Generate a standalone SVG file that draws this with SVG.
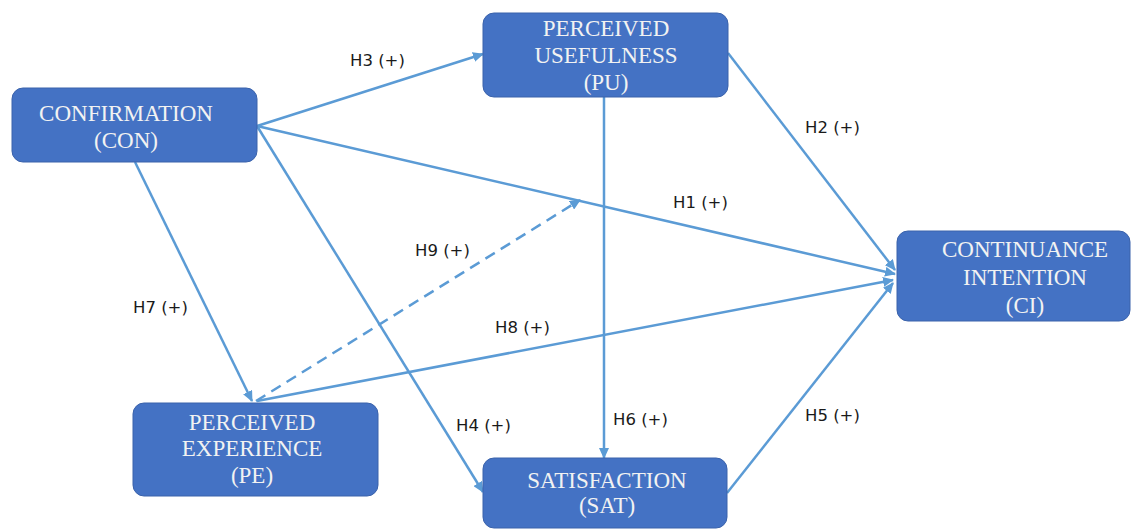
<svg xmlns="http://www.w3.org/2000/svg" width="1131" height="529" viewBox="0 0 1131 529">
<style>
.box{fill:#4472c4;stroke:#3a62ab;stroke-width:1}
.nt{font-family:"Liberation Serif","Times New Roman",serif;font-size:23px;fill:#f2f2f2;text-anchor:middle}
.lb{font-family:"DejaVu Sans",sans-serif;font-size:16.5px;fill:#1a1a1a}
.c{stroke:#5b9bd5;stroke-width:2.5;fill:none;marker-end:url(#ah)}
.d{stroke-dasharray:11 7}
</style>
<defs>
<marker id="ah" markerUnits="userSpaceOnUse" markerWidth="12" markerHeight="10" refX="10" refY="5" orient="auto">
<path d="M0,0 L11,5 L0,10 Z" fill="#5b9bd5"/>
</marker>
</defs>
<rect width="1131" height="529" fill="#ffffff"/>
<g id="connectors">
<line class="c" x1="257" y1="126" x2="483" y2="54"/>
<line class="c" x1="257" y1="126" x2="895" y2="274"/>
<line class="c" x1="257" y1="126" x2="483" y2="492"/>
<line class="c" x1="135" y1="162" x2="252" y2="401"/>
<line class="c" x1="257" y1="401" x2="893" y2="280"/>
<line class="c d" x1="256" y1="401" x2="580" y2="200"/>
<line class="c" x1="604" y1="97" x2="604" y2="458"/>
<line class="c" x1="728" y1="53" x2="895" y2="270"/>
<line class="c" x1="727" y1="493" x2="893" y2="283"/>
</g>
<g id="labels">
<text class="lb" x="350" y="66">H3 (+)</text>
<text class="lb" x="805" y="133">H2 (+)</text>
<text class="lb" x="673" y="208">H1 (+)</text>
<text class="lb" x="415" y="256">H9 (+)</text>
<text class="lb" x="133" y="313">H7 (+)</text>
<text class="lb" x="495" y="333">H8 (+)</text>
<text class="lb" x="456" y="431">H4 (+)</text>
<text class="lb" x="613" y="425">H6 (+)</text>
<text class="lb" x="805" y="421">H5 (+)</text>
</g>
<g id="node-con">
<rect class="box" x="12" y="88" width="245" height="74" rx="11"/>
<text class="nt" x="126" y="121">CONFIRMATION</text>
<text class="nt" x="126" y="148">(CON)</text>
</g>
<g id="node-pu">
<rect class="box" x="483" y="13" width="245" height="84" rx="11"/>
<text class="nt" x="606" y="36">PERCEIVED</text>
<text class="nt" x="606" y="63">USEFULNESS</text>
<text class="nt" x="606" y="90">(PU)</text>
</g>
<g id="node-ci">
<rect class="box" x="897" y="231" width="233" height="90" rx="11"/>
<text class="nt" x="1025" y="257">CONTINUANCE</text>
<text class="nt" x="1025" y="285">INTENTION</text>
<text class="nt" x="1025" y="313">(CI)</text>
</g>
<g id="node-pe">
<rect class="box" x="133" y="403" width="245" height="93" rx="11"/>
<text class="nt" x="252" y="430">PERCEIVED</text>
<text class="nt" x="252" y="456">EXPERIENCE</text>
<text class="nt" x="252" y="483">(PE)</text>
</g>
<g id="node-sat">
<rect class="box" x="483" y="458" width="244" height="70" rx="11"/>
<text class="nt" x="607" y="488">SATISFACTION</text>
<text class="nt" x="607" y="513">(SAT)</text>
</g>
</svg>
